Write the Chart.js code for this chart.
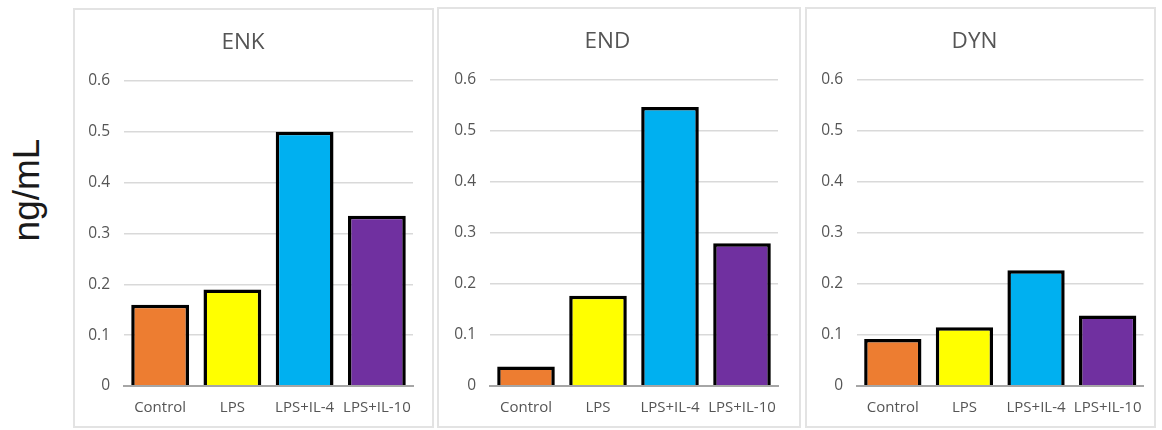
<!DOCTYPE html>
<html>
<head>
<meta charset="utf-8">
<script src="https://cdn.jsdelivr.net/npm/chart.js@4"></script>
<style>
  html, body { margin: 0; padding: 0; background: #fff; }
  body { width: 1162px; height: 430px; position: relative; overflow: hidden; }
  .frame { position: absolute; box-sizing: border-box; border: 2px solid #e3e3e3; }
  canvas { position: absolute; }
  #unit {
    position: absolute; left: 27px; top: 190px;
    transform: translate(-50%, -50%) rotate(-90deg);
    font-family: "Liberation Sans", Arial, sans-serif; font-size: 37px;
    color: #1a1a1a; white-space: nowrap;
  }
</style>
</head>
<body>
<div id="unit">ng/mL</div>

<script>
// Groups shown on every panel
const categories = ['Control', 'LPS', 'LPS+IL-4', 'LPS+IL-10'];

// Opioid peptide concentrations (ng/mL)
const enkValues = [0.16, 0.19, 0.50, 0.335];
const endValues = [0.038, 0.177, 0.547, 0.28];
const dynValues = [0.092, 0.115, 0.227, 0.138];

// Shared value axis ticks
const yTicks = [0, 0.1, 0.2, 0.3, 0.4, 0.5, 0.6];

// One fill per group
const barColors = ['#ED7D31', '#FFFF00', '#00B0F0', '#7030A0'];

const panels = [
  { title: 'ENK', values: enkValues, left: 73,  top: 8, width: 361, height: 420, axisW: 51, padR: 21 },
  { title: 'END', values: endValues, left: 437, top: 7, width: 364, height: 421, axisW: 53, padR: 23 },
  { title: 'DYN', values: dynValues, left: 805, top: 7, width: 351, height: 421, axisW: 52, padR: 12 }
];

const fontFamily = '"Open Sans", "Noto Sans", sans-serif';
const textGray = '#555555';

panels.forEach(p => {
  const frame = document.createElement('div');
  frame.className = 'frame';
  Object.assign(frame.style, {
    left: p.left + 'px', top: p.top + 'px', width: p.width + 'px', height: p.height + 'px'
  });
  document.body.appendChild(frame);

  const cv = document.createElement('canvas');
  cv.width = p.width; cv.height = p.height;
  cv.style.left = p.left + 'px'; cv.style.top = p.top + 'px';
  cv.style.width = p.width + 'px'; cv.style.height = p.height + 'px';
  document.body.appendChild(cv);

  new Chart(cv, {
    type: 'bar',
    data: {
      labels: categories,
      datasets: [{
        data: p.values,
        backgroundColor: barColors,
        borderColor: '#000000',
        borderWidth: 3.5,
        categoryPercentage: 0.8,
        barPercentage: 1.0
      }]
    },
    options: {
      responsive: false,
      devicePixelRatio: 1,
      animation: false,
      layout: { padding: { left: 0, right: p.padR, top: 0, bottom: 0 } },
      plugins: {
        legend: { display: false },
        tooltip: { enabled: false },
        title: {
          display: true,
          text: p.title,
          color: textGray,
          font: { family: fontFamily, size: 22.5, weight: 'normal', lineHeight: 1.2 },
          padding: { top: 21, bottom: 25 }
        }
      },
      scales: {
        x: {
          grid: { display: false, drawTicks: false },
          border: { display: true, color: '#a6a6a6', width: 2, z: 1 },
          ticks: {
            color: textGray,
            font: { family: fontFamily, size: 15 },
            padding: 13,
            maxRotation: 0, autoSkip: false
          },
          afterFit: s => { s.height = 42; }
        },
        y: {
          min: 0, max: 0.6,
          afterBuildTicks: s => { s.ticks = yTicks.map(v => ({ value: v })); },
          grid: { color: '#d9d9d9', lineWidth: 1.5, drawTicks: false },
          border: { display: false },
          ticks: {
            color: textGray,
            font: { family: fontFamily, size: 15.5 },
            padding: 14,
            callback: v => String(Math.round(v * 10) / 10)
          },
          afterFit: s => { s.width = p.axisW; }
        }
      }
    }
  });
});
</script>
</body>
</html>
